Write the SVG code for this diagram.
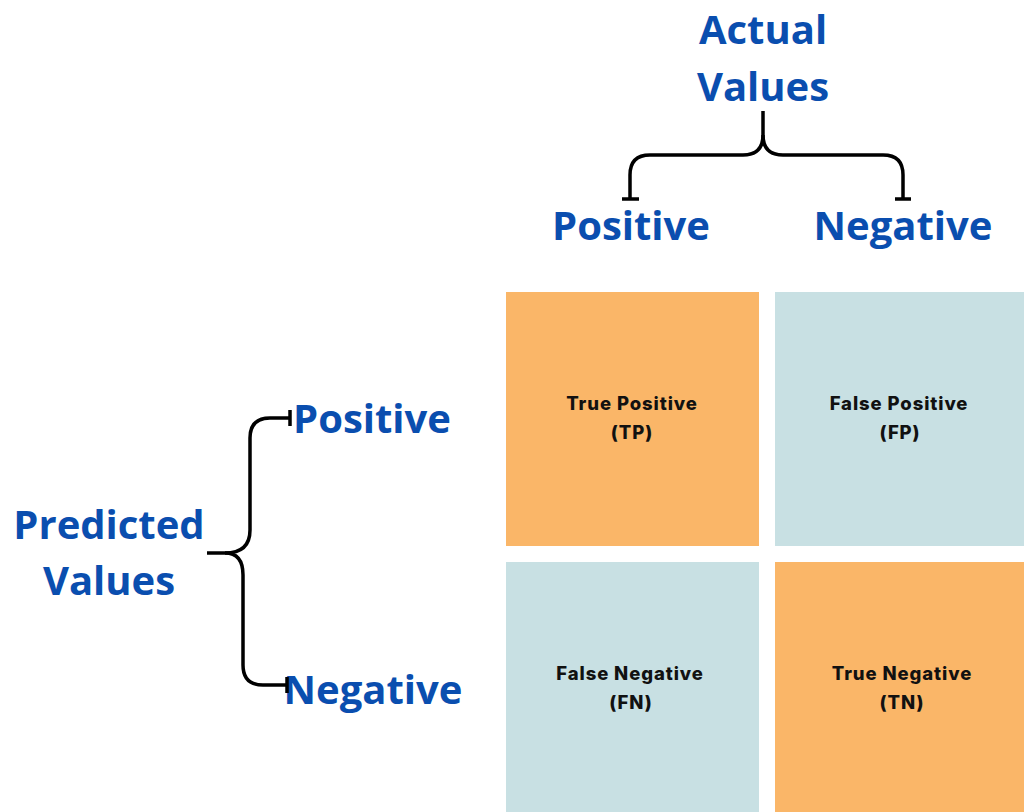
<svg xmlns="http://www.w3.org/2000/svg" width="1024" height="812" viewBox="0 0 1024 812">
<style>
.h{font-family:"Open Sans","Liberation Sans",sans-serif;font-weight:700;font-size:40px;fill:#0a4eaf;text-anchor:middle}
.c{font-family:Inter,"Liberation Sans",sans-serif;font-weight:800;font-size:18.5px;letter-spacing:0.9px;fill:#111;text-anchor:middle}
.br{fill:none;stroke:#000;stroke-width:3.5;stroke-linecap:butt}
.o{fill:#fab668}
.b{fill:#c8e0e3}
</style>
<rect width="1024" height="812" fill="#fff"/>
<g id="actual-title">
<text class="h" x="763" y="44">Actual</text>
<text class="h" x="763" y="101">Values</text>
</g>
<g id="actual-positive"><text class="h" x="631" y="240">Positive</text></g>
<g id="actual-negative"><text class="h" x="903" y="240">Negative</text></g>
<g id="predicted-title">
<text class="h" x="109" y="539">Predicted</text>
<text class="h" x="109" y="595">Values</text>
</g>
<g id="pred-positive"><text class="h" x="372" y="433">Positive</text></g>
<g id="pred-negative"><text class="h" x="373" y="704">Negative</text></g>
<g id="connectors">
<path class="br" d="M763 111 V135 Q763 155 743 155 H650 Q630 155 630 175 V199 M622 199 H639"/>
<path class="br" d="M763 135 Q763 155 783 155 H883 Q903 155 903 175 V199 M895 199 H911"/>
<path class="br" d="M207 553 H225 Q250 553 250 530 V438 Q250 418 270 418 H290 M290 410 V426"/>
<path class="br" d="M225 553 Q243 553 243 575 V665 Q243 685 263 685 H287 M287 677 V693"/>
</g>
<g id="tp"><rect class="o" x="506" y="292" width="253" height="254"/>
<text class="c" x="632" y="410">True Positive</text><text class="c" x="632" y="439">(TP)</text></g>
<g id="fp"><rect class="b" x="775" y="292" width="249" height="254"/>
<text class="c" x="899" y="410">False Positive</text><text class="c" x="900" y="439">(FP)</text></g>
<g id="fn"><rect class="b" x="506" y="562" width="253" height="250"/>
<text class="c" x="630" y="680">False Negative</text><text class="c" x="631" y="709">(FN)</text></g>
<g id="tn"><rect class="o" x="775" y="562" width="249" height="250"/>
<text class="c" x="902" y="680">True Negative</text><text class="c" x="902" y="709">(TN)</text></g>
</svg>
